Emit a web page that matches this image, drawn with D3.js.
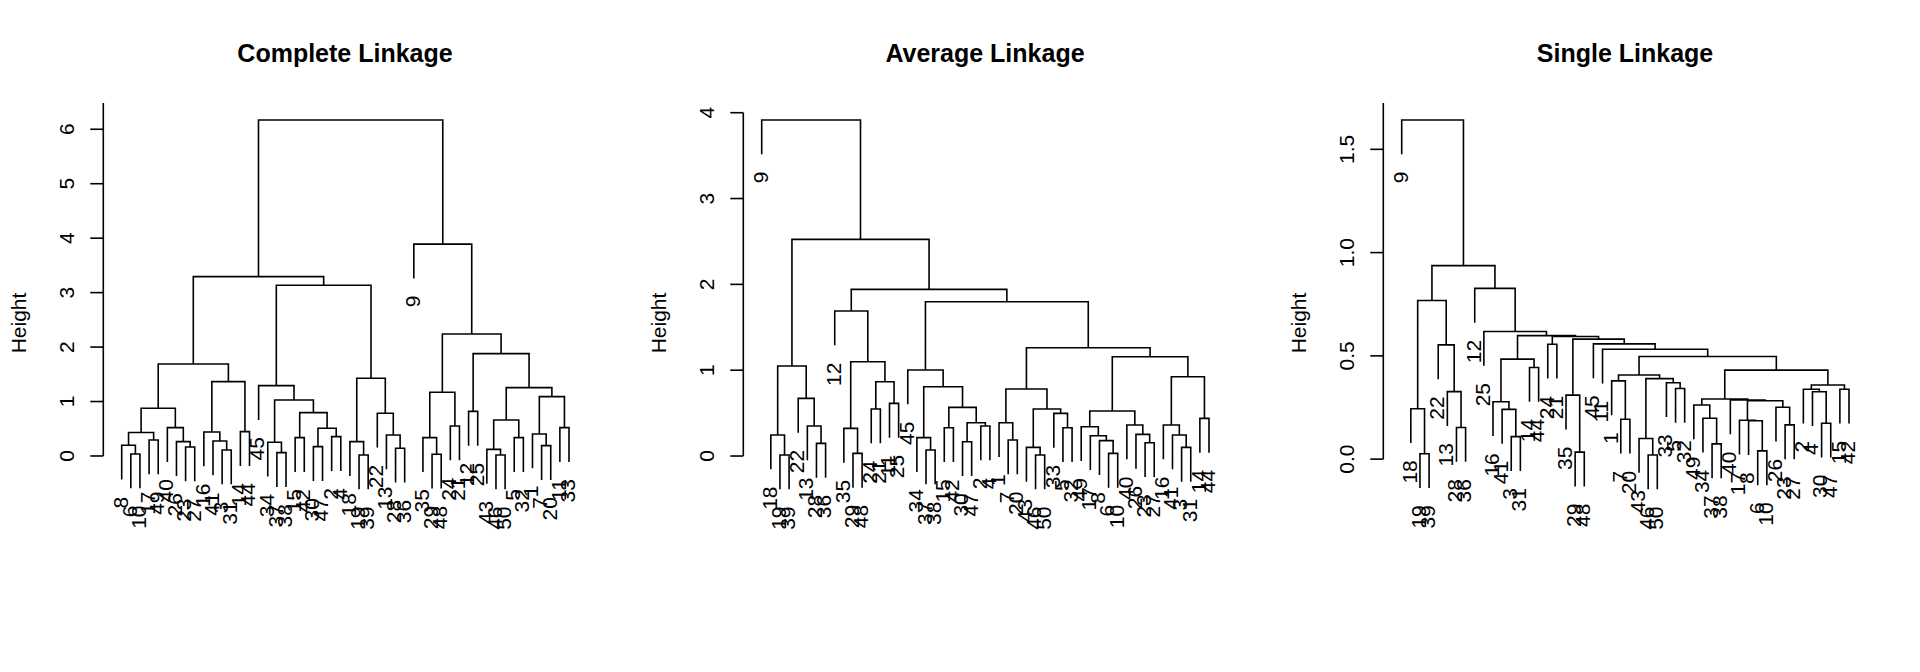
<!DOCTYPE html>
<html>
<head>
<meta charset="utf-8">
<script src="https://cdn.jsdelivr.net/npm/d3@7"></script>
<style>
  html, body { margin: 0; padding: 0; background: #ffffff; }
  svg { display: block; }
  text { font-family: "Liberation Sans", Arial, Helvetica, sans-serif; fill: #000; }
</style>
</head>
<body>
<svg id="chart" width="1920" height="672"></svg>
<script>
// ---------- DATA (hclust-style merge tables: negative = observation label, positive = earlier row) ----------
const titles = ["Complete Linkage", "Average Linkage", "Single Linkage"];

const completeMerge = [
  [-19,-39],[-46,-50],[-29,-48],[-6,-10],[-37,-38],[-3,-31],[-43,2],[-28,-36],[-23,-27],[-30,-47],
  [-7,-20],[-8,4],[-34,5],[-26,9],[-18,1],[-41,6],[-17,-49],[-15,-42],[-5,-32],[-35,3],
  [-2,-4],[-13,8],[-1,11],[12,17],[-16,16],[-14,-44],[10,21],[-40,14],[-11,-33],[-24,-21],
  [7,19],[-22,22],[18,27],[-12,-25],[24,28],[13,33],[23,29],[20,30],[31,37],[-45,36],
  [25,26],[15,32],[35,41],[34,39],[38,44],[40,42],[43,46],[-9,45],[47,48]
];
const completeHeight = [
  0.018,0.018,0.031,0.037,0.061,0.11,0.122,0.141,0.165,0.171,
  0.19,0.196,0.251,0.263,0.263,0.276,0.294,0.337,0.337,0.337,
  0.355,0.386,0.404,0.43,0.44,0.447,0.508,0.52,0.52,0.551,
  0.661,0.784,0.796,0.82,0.876,1.029,1.09,1.17,1.255,1.292,
  1.366,1.427,1.69,1.88,2.24,3.135,3.294,3.89,6.17
];
const completeTicks = [0, 1, 2, 3, 4, 5, 6, 7];

const averageMerge = [
  [-19,-39],[-46,-50],[-29,-48],[-6,-10],[-37,-38],[-43,2],[-3,-31],[-28,-36],[-23,-27],[-30,-47],
  [-8,4],[-7,-20],[-34,5],[-17,11],[-18,1],[-41,7],[-26,9],[-35,3],[-15,-42],[-5,-32],
  [-49,14],[-13,8],[-2,-4],[-16,16],[-40,17],[-1,12],[10,23],[-14,-44],[-33,20],[21,25],
  [-24,-21],[6,29],[19,27],[-11,-25],[-22,22],[26,32],[13,33],[31,34],[24,28],[-45,37],
  [15,35],[18,38],[30,39],[36,43],[-12,42],[40,44],[45,46],[41,47],[-9,48]
];
const averageHeight = [
  0.012,0.012,0.031,0.031,0.07,0.101,0.101,0.148,0.155,0.167,
  0.179,0.186,0.214,0.237,0.245,0.245,0.252,0.322,0.33,0.33,
  0.342,0.35,0.35,0.361,0.361,0.388,0.388,0.439,0.497,0.524,
  0.548,0.548,0.567,0.614,0.672,0.781,0.808,0.866,0.924,1.002,
  1.049,1.099,1.157,1.262,1.689,1.798,1.942,2.524,3.915
];
const averageTicks = [0, 1, 2, 3, 4];

const singleMerge = [
  [-19,-39],[-46,-50],[-29,-48],[-6,-10],[-37,-38],[-43,2],[-3,-31],[-28,-36],[-23,-27],[-30,-47],
  [-8,4],[-17,11],[-7,-20],[-34,5],[-41,7],[-18,1],[-26,9],[-49,14],[-16,15],[12,17],
  [-40,20],[18,21],[-35,3],[-4,10],[-13,8],[-2,24],[-15,-42],[-5,-32],[26,27],[-33,28],
  [-1,13],[6,30],[31,32],[22,29],[-14,-44],[19,35],[33,34],[-11,37],[-22,25],[-24,-21],
  [-45,38],[23,41],[40,42],[36,43],[-25,44],[16,39],[-12,45],[46,47],[-9,48]
];
const singleHeight = [
  0.026,0.02,0.034,0.04,0.074,0.10,0.109,0.153,0.166,0.174,
  0.186,0.188,0.193,0.198,0.241,0.244,0.251,0.262,0.278,0.283,
  0.286,0.291,0.31,0.326,0.327,0.338,0.338,0.342,0.359,0.37,
  0.379,0.39,0.407,0.431,0.444,0.484,0.497,0.532,0.553,0.556,
  0.558,0.581,0.594,0.598,0.618,0.768,0.827,0.937,1.642
];
const singleTicks = [0, 0.5, 1, 1.5, 2];

// ---------- LAYOUT ----------
const panels = [
  { title: titles[0], merge: completeMerge, height: completeHeight, ticks: completeTicks, fmt: d3.format("d") },
  { title: titles[1], merge: averageMerge,  height: averageHeight,  ticks: averageTicks,  fmt: d3.format("d") },
  { title: titles[2], merge: singleMerge,   height: singleHeight,   ticks: singleTicks,   fmt: d3.format(".1f") }
];
const panelW = 640;
const hang = 0.1;
const leafLeft = 121.7, leafRight = 569;
const rootY = 120, lowestLeafY = 488.5;
const plotTop = 103;
const axisX = 103.3;
const tickLen = 13;
const stroke = 1.6;

const svg = d3.select("#chart");
svg.append("rect").attr("width", 1920).attr("height", 672).attr("fill", "#fff");

panels.forEach((p, pi) => {
  const off = pi * panelW;
  const g = svg.append("g").attr("transform", `translate(${off},0)`);
  const n = p.merge.length + 1;
  const hMax = d3.max(p.height), hMin = d3.min(p.height);
  const hangAmt = hang * (hMax - hMin);

  // leaf order from merge table (left child first)
  const order = [];
  (function walk(k) {
    if (k < 0) order.push(-k);
    else { walk(p.merge[k - 1][0]); walk(p.merge[k - 1][1]); }
  })(p.merge.length);

  const x = d3.scaleLinear().domain([0, n - 1]).range([leafLeft, leafRight]);
  const y = d3.scaleLinear().domain([hMin - hangAmt, hMax]).range([lowestLeafY, rootY]);

  const leafX = {};
  order.forEach((lab, i) => { leafX[lab] = x(i); });
  const nodeX = [];
  const leafBottom = {};
  p.merge.forEach((m, r) => {
    const xs = m.map(c => c < 0 ? leafX[-c] : nodeX[c - 1]);
    nodeX[r] = (xs[0] + xs[1]) / 2;
    m.forEach(c => { if (c < 0) leafBottom[-c] = p.height[r] - hangAmt; });
  });

  // branches
  const path = d3.path();
  p.merge.forEach((m, r) => {
    const h = p.height[r];
    const pts = m.map(c => c < 0
      ? [leafX[-c], leafBottom[-c]]
      : [nodeX[c - 1], p.height[c - 1]]);
    path.moveTo(pts[0][0], y(pts[0][1]));
    path.lineTo(pts[0][0], y(h));
    path.lineTo(pts[1][0], y(h));
    path.lineTo(pts[1][0], y(pts[1][1]));
  });
  g.append("path").attr("d", path.toString())
    .attr("fill", "none").attr("stroke", "#000").attr("stroke-width", stroke)
    .attr("stroke-linecap", "square");

  // leaf labels
  g.selectAll("text.leaf").data(order).join("text")
    .attr("class", "leaf")
    .attr("font-size", 21)
    .attr("text-anchor", "end")
    .attr("dy", "0.35em")
    .attr("transform", d => `translate(${leafX[d] - 1.5},${y(leafBottom[d]) + 18}) rotate(-90)`)
    .text(d => d);

  // y axis
  const ticks = p.ticks.filter(t => y(t) >= plotTop - 0.5);
  const yTopLine = Math.max(y(d3.max(p.ticks)), plotTop);
  g.append("line")
    .attr("x1", axisX).attr("x2", axisX)
    .attr("y1", y(d3.min(p.ticks))).attr("y2", yTopLine)
    .attr("stroke", "#000").attr("stroke-width", stroke);
  g.selectAll("line.tick").data(ticks).join("line")
    .attr("class", "tick")
    .attr("x1", axisX - tickLen).attr("x2", axisX)
    .attr("y1", d => y(d)).attr("y2", d => y(d))
    .attr("stroke", "#000").attr("stroke-width", stroke);
  g.selectAll("text.ticklab").data(ticks).join("text")
    .attr("class", "ticklab")
    .attr("font-size", 21)
    .attr("text-anchor", "middle")
    .attr("dy", "0.35em")
    .attr("transform", d => `translate(67,${y(d)}) rotate(-90)`)
    .text(d => p.fmt(d));

  // axis title
  g.append("text")
    .attr("font-size", 21)
    .attr("text-anchor", "middle")
    .attr("dy", "0.35em")
    .attr("transform", `translate(19,323) rotate(-90)`)
    .text("Height");

  // main title
  g.append("text")
    .attr("x", 345).attr("y", 62)
    .attr("font-size", 25)
    .attr("font-weight", "bold")
    .attr("text-anchor", "middle")
    .text(p.title);
});
</script>
</body>
</html>
